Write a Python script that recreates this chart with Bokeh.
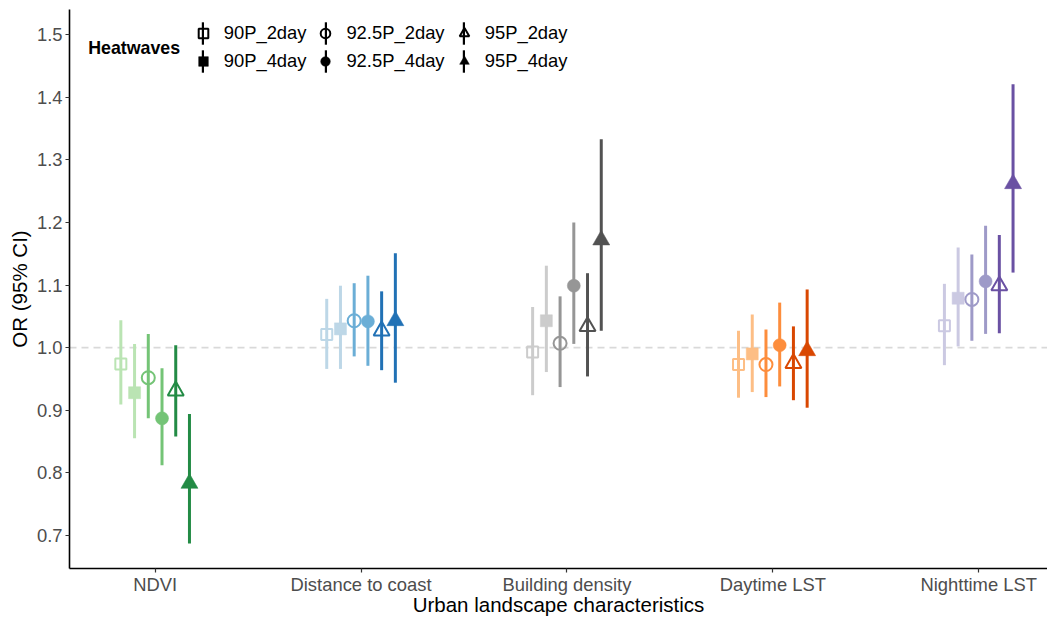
from bokeh.plotting import figure
from bokeh.models import (Range1d, FixedTicker, Span, Legend, LegendItem, ColumnDataSource, Label)
from bokeh.embed import file_html
from bokeh.resources import INLINE

# ---- data -------------------------------------------------------------
categories = ["NDVI", "Distance to coast", "Building density", "Daytime LST", "Nighttime LST"]
series = ["90P_2day", "90P_4day", "92.5P_2day", "92.5P_4day", "95P_2day", "95P_4day"]
legend_title = "Heatwaves"
x_title = "Urban landscape characteristics"
y_title = "OR (95% CI)"

or_90p_2day = [0.974, 1.021, 0.993, 0.973, 1.035]
lo_90p_2day = [0.909, 0.966, 0.924, 0.920, 0.972]
hi_90p_2day = [1.044, 1.078, 1.065, 1.027, 1.102]

or_90p_4day = [0.928, 1.030, 1.043, 0.990, 1.079]
lo_90p_4day = [0.855, 0.966, 0.961, 0.929, 1.002]
hi_90p_4day = [1.006, 1.099, 1.131, 1.053, 1.160]

or_925p_2day = [0.952, 1.043, 1.007, 0.973, 1.077]
lo_925p_2day = [0.887, 0.986, 0.937, 0.921, 1.011]
hi_925p_2day = [1.022, 1.103, 1.082, 1.029, 1.149]

or_925p_4day = [0.887, 1.042, 1.099, 1.004, 1.106]
lo_925p_4day = [0.812, 0.971, 1.006, 0.938, 1.022]
hi_925p_4day = [0.967, 1.115, 1.200, 1.072, 1.195]

or_95p_2day = [0.931, 1.027, 1.034, 0.975, 1.099]
lo_95p_2day = [0.858, 0.964, 0.954, 0.916, 1.023]
hi_95p_2day = [1.004, 1.090, 1.119, 1.034, 1.180]

or_95p_4day = [0.783, 1.043, 1.172, 0.995, 1.262]
lo_95p_4day = [0.687, 0.944, 1.027, 0.904, 1.120]
hi_95p_4day = [0.894, 1.151, 1.333, 1.093, 1.421]

y_ticks = [0.7, 0.8, 0.9, 1.0, 1.1, 1.2, 1.3, 1.4, 1.5]
y_tick_labels = ["0.7", "0.8", "0.9", "1.0", "1.1", "1.2", "1.3", "1.4", "1.5"]

palettes = {
    "NDVI": ["#bae4b3", "#74c476", "#238b45"],
    "Distance to coast": ["#bdd7e7", "#6baed6", "#2171b5"],
    "Building density": ["#cccccc", "#969696", "#525252"],
    "Daytime LST": ["#fdbe85", "#fd8d3c", "#d94701"],
    "Nighttime LST": ["#cbc9e2", "#9e9ac8", "#6a51a3"],
}

estimates = [or_90p_2day, or_90p_4day, or_925p_2day, or_925p_4day, or_95p_2day, or_95p_4day]
lowers = [lo_90p_2day, lo_90p_4day, lo_925p_2day, lo_925p_4day, lo_95p_2day, lo_95p_4day]
uppers = [hi_90p_2day, hi_90p_4day, hi_925p_2day, hi_925p_4day, hi_95p_2day, hi_95p_4day]

shade_index = [0, 0, 1, 1, 2, 2]
markers = ["square", "square", "circle", "circle", "triangle", "triangle"]
filled = [False, True, False, True, False, True]
sizes = [11, 12, 13, 13, 16, 17]
dodge_width = 0.4

FONT = "Liberation Sans"
TICK_FS = "18.4px"
TITLE_FS = "20.5px"

p = figure(width=1047, height=619, output_backend="svg", toolbar_location=None,
           x_range=Range1d(0.584, 5.334), y_range=Range1d(0.647, 1.5405),
           min_border_left=69, min_border_right=0, min_border_top=9, min_border_bottom=51)
p.outline_line_color = None
p.grid.visible = False
p.background_fill_color = "white"

ref = Span(location=1.0, dimension="width", line_color="#d9d9d9", line_width=1.6,
           line_dash="7 5", level="underlay")
p.add_layout(ref)

n = len(series)
step = dodge_width / n
for k in range(n):
    offset = (k - (n - 1) / 2) * step
    xs = [i + 1 + offset for i in range(len(categories))]
    cols = [palettes[c][shade_index[k]] for c in categories]
    src = ColumnDataSource(dict(x=xs, y=estimates[k], lo=lowers[k], hi=uppers[k], color=cols))
    p.segment(x0="x", y0="lo", x1="x", y1="hi", source=src, line_color="color", line_width=3)
    if filled[k]:
        p.scatter(x="x", y="y", source=src, marker=markers[k], size=sizes[k],
                  fill_color="color", line_color="color", line_width=0.5)
    else:
        p.scatter(x="x", y="y", source=src, marker=markers[k], size=sizes[k],
                  fill_color=None, line_color="color", line_width=2)

# ---- legend (black keys): one bar legend + one marker legend per column ----
# placeholder renderers sit outside the visible ranges; they only feed the legends
bar_r = p.quad(left=[-10.0], right=[-9.0], bottom=[-10.0], top=[-9.0],
               fill_color="black", line_color=None)
legend_x = [120.7, 243.4, 381.7]
legend_y = 494.6
for c in range(3):
    bar_items = []
    mk_items = []
    for k in (2 * c, 2 * c + 1):
        if filled[k]:
            mk = p.scatter(x=[-10.0], y=[-10.0], marker=markers[k], fill_color="black",
                           line_color="black", line_width=0.5)
        else:
            mk = p.scatter(x=[-10.0], y=[-10.0], marker=markers[k], fill_color=None,
                           line_color="black", line_width=2)
        bar_items.append(LegendItem(label=" ", renderers=[bar_r]))
        mk_items.append(LegendItem(label=series[k], renderers=[mk]))
    lg_bar = Legend(items=bar_items, location=(legend_x[c] + 11.5, legend_y - 2),
                    orientation="vertical", glyph_width=3, glyph_height=28, label_standoff=0,
                    label_width=0, label_height=0, spacing=0, padding=0, margin=0,
                    background_fill_alpha=0, border_line_color=None,
                    label_text_font_size="10px", label_text_alpha=0)
    lg_mk = Legend(items=mk_items, location=(legend_x[c], legend_y), orientation="vertical",
                   glyph_width=26, glyph_height=24, label_standoff=8, spacing=4,
                   padding=0, margin=0, background_fill_alpha=0, border_line_color=None,
                   label_text_font=FONT, label_text_font_size=TICK_FS, label_text_color="black")
    p.add_layout(lg_bar)
    p.add_layout(lg_mk)

p.add_layout(Label(x=18.7, y=521.0, x_units="screen", y_units="screen", text=legend_title,
                   text_font=FONT, text_font_size="17.8px", text_font_style="bold",
                   text_color="black", text_baseline="middle", text_align="left"))

# ---- axes ---------------------------------------------------------------
p.xaxis.ticker = FixedTicker(ticks=[i + 1 for i in range(len(categories))])
p.xaxis.major_label_overrides = {i + 1: c for i, c in enumerate(categories)}
p.yaxis.ticker = FixedTicker(ticks=y_ticks)
p.yaxis.major_label_overrides = {t: l for t, l in zip(y_ticks, y_tick_labels)}

for ax in (p.xaxis, p.yaxis):
    ax.axis_line_color = "black"
    ax.axis_line_width = 1.6
    ax.major_tick_line_color = "#333333"
    ax.major_tick_line_width = 1.2
    ax.major_tick_in = 0
    ax.major_tick_out = 4
    ax.minor_tick_line_color = None
    ax.major_label_text_font = FONT
    ax.major_label_text_font_size = TICK_FS
    ax.major_label_text_color = "#4d4d4d"
    ax.axis_label_text_font = FONT
    ax.axis_label_text_font_size = TITLE_FS
    ax.axis_label_text_font_style = "normal"
    ax.axis_label_text_color = "black"

p.xaxis.major_label_standoff = 1
p.yaxis.major_label_standoff = 3
p.yaxis.axis_label = y_title
p.yaxis.axis_label_standoff = 3
p.xaxis.axis_label = x_title
p.xaxis.axis_label_standoff = -5

open("out.html", "w").write(file_html(p, INLINE))
